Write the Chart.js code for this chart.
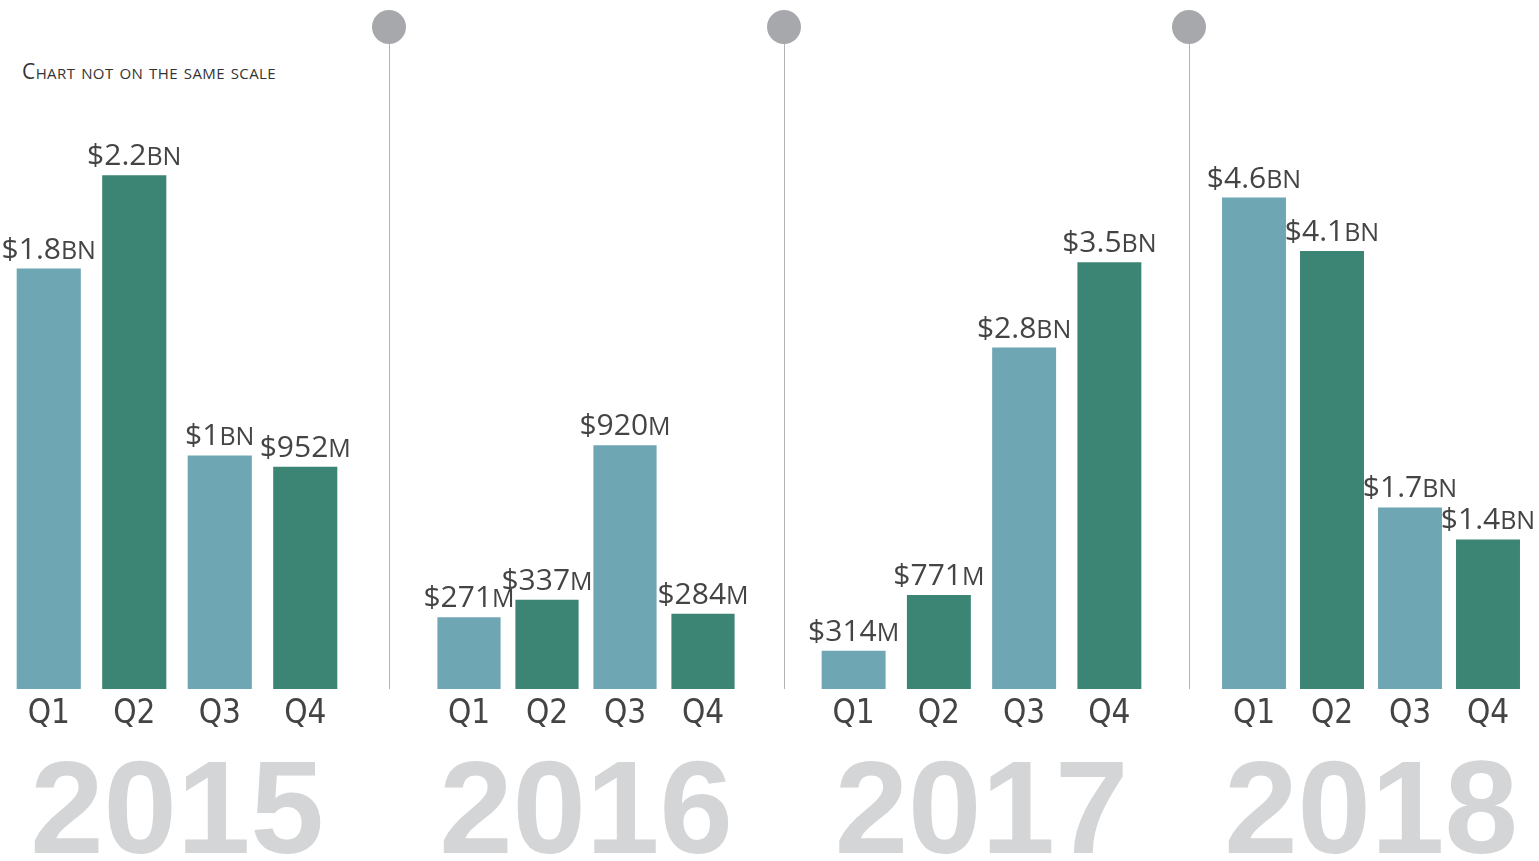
<!DOCTYPE html>
<html>
<head>
<meta charset="utf-8">
<script src="https://cdn.jsdelivr.net/npm/chart.js@4"></script>
<style>
  body { margin: 0; background: #fff; width: 1539px; height: 861px; overflow: hidden; position: relative; }
  canvas { position: absolute; top: 0; }
  .aviso { position: absolute; left: 22px; top: 57px; font-family: "Open Sans", sans-serif; font-size: 21px;
           font-variant: small-caps; color: #333; letter-spacing: 0.4px; }
  .divisor { position: absolute; top: 27px; width: 1px; height: 662px; background: #b4b4b6; }
  .bolinha { position: absolute; top: 10px; width: 34px; height: 34px; border-radius: 50%; background: #a7a8ab; }
</style>
</head>
<body>
<div class="aviso">Chart not on the same scale</div>

<script>
// valores em milhoes de dolares
const trimestres = ['Q1', 'Q2', 'Q3', 'Q4'];
const anos = ['2015', '2016', '2017', '2018'];
const valores2015 = [1800, 2200, 1000, 952];
const valores2016 = [271, 337, 920, 284];
const valores2017 = [314, 771, 2800, 3500];
const valores2018 = [4600, 4100, 1700, 1400];
// cada ano tem sua propria escala
const maxEscala = [2950, 2600, 5650, 6450];

const valoresPorAno = [valores2015, valores2016, valores2017, valores2018];

const corClara = '#6fa6b3';
const corEscura = '#3c8474';

// posicao de cada painel na tela
const paineis = [
    { left: 6, width: 342, barra: 0.75 },
    { left: 430, width: 312, barra: 0.81 },
    { left: 811, width: 341, barra: 0.75 },
    { left: 1215, width: 312, barra: 0.82 }
];
const divisores = [389, 784, 1189];
const margem = 40;

divisores.forEach((x) => {
    const linha = document.createElement('div');
    linha.className = 'divisor';
    linha.style.left = x + 'px';
    document.body.appendChild(linha);
    const bola = document.createElement('div');
    bola.className = 'bolinha';
    bola.style.left = (x - 17) + 'px';
    document.body.appendChild(bola);
});

function rotulo(v) {
    if (v >= 1000) return ['$' + (v / 1000), 'BN'];
    return ['$' + v, 'M'];
}

const etiquetas = {
    id: 'etiquetas',
    afterDatasetsDraw(chart) {
        const ctx = chart.ctx;
        const dados = chart.data.datasets[0].data;
        chart.getDatasetMeta(0).data.forEach((barra, i) => {
            const [num, suf] = rotulo(dados[i]);
            ctx.save();
            ctx.fillStyle = '#444';
            ctx.textAlign = 'left';
            ctx.textBaseline = 'alphabetic';
            ctx.font = '30px "Open Sans"';
            const w1 = ctx.measureText(num).width;
            ctx.font = '25px "Open Sans"';
            const w2 = ctx.measureText(suf).width;
            const x = barra.x - (w1 + w2) / 2;
            const y = barra.y - 10;
            ctx.font = '30px "Open Sans"';
            ctx.fillText(num, x, y);
            ctx.font = '25px "Open Sans"';
            ctx.fillText(suf, x + w1, y);
            ctx.restore();
        });
    }
};

anos.forEach((ano, i) => {
    const p = paineis[i];
    const canvas = document.createElement('canvas');
    canvas.width = p.width + margem * 2;
    canvas.height = 861;
    canvas.style.left = (p.left - margem) + 'px';
    document.body.appendChild(canvas);

    new Chart(canvas, {
        type: 'bar',
        data: {
            labels: trimestres,
            datasets: [{
                data: valoresPorAno[i],
                backgroundColor: [corClara, corEscura, corClara, corEscura],
                categoryPercentage: 1,
                barPercentage: p.barra,
                borderWidth: 0
            }]
        },
        options: {
            responsive: false,
            animation: false,
            layout: { padding: { left: margem, right: margem, top: 0, bottom: 0 } },
            plugins: {
                legend: { display: false },
                tooltip: { enabled: false }
            },
            scales: {
                x: {
                    grid: { display: false, drawTicks: false },
                    border: { display: false },
                    ticks: {
                        color: '#444',
                        padding: 6,
                        font: { family: '"Liberation Sans Narrow", "DejaVu Sans Condensed", Roboto', size: 33 }
                    },
                    title: {
                        display: true,
                        text: ano,
                        color: '#d4d5d7',
                        padding: { top: 0, bottom: -6 },
                        font: { family: '"Liberation Sans"', weight: 'bold', size: 132, lineHeight: 0.77 }
                    },
                    afterFit(scale) { scale.height = 172; }
                },
                y: {
                    display: false,
                    min: 0,
                    max: maxEscala[i]
                }
            }
        },
        plugins: [etiquetas]
    });
});
</script>
</body>
</html>
